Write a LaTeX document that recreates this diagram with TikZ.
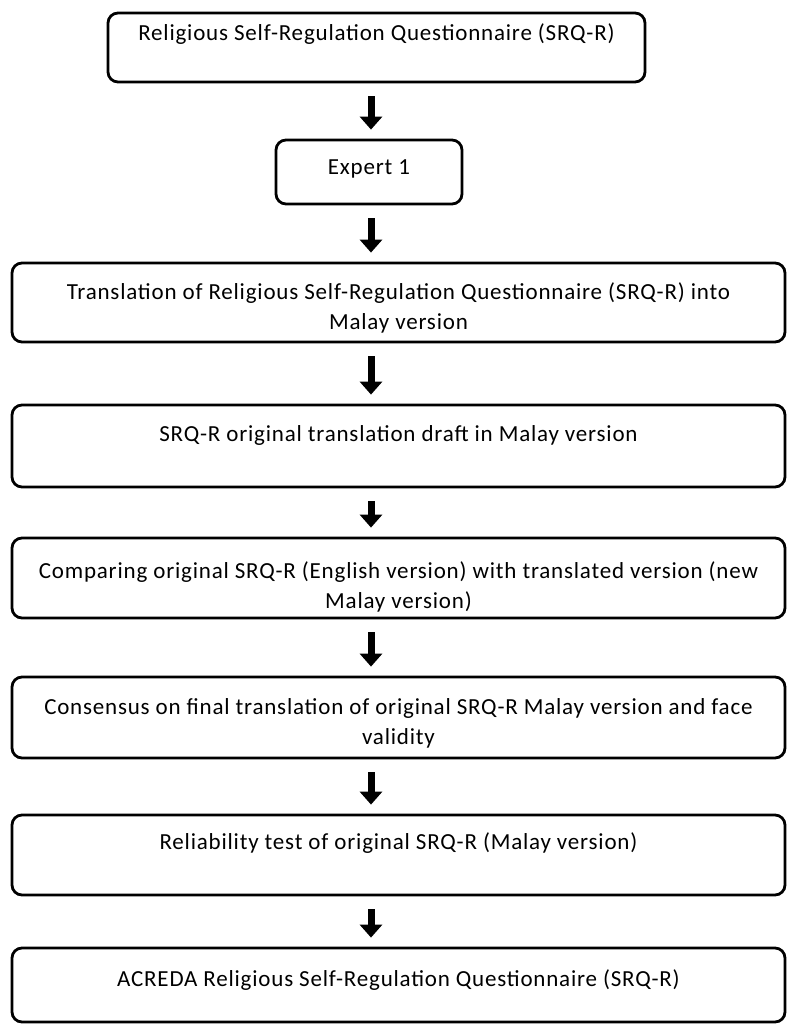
\documentclass[tikz,border=0pt]{standalone}
\usepackage{fontspec}
\setmainfont{Carlito}[LetterSpace=3.5]
\usetikzlibrary{arrows.meta}

\tikzset{
    stepbox/.style={draw, line width=2.8pt, rounded corners=10pt, align=center, inner sep=0pt, text height=16pt},
    widebox/.style={stepbox, minimum width=773pt},
    flowarrow/.style={line width=7pt, -{Triangle[width=22pt,length=13pt]}, shorten <=13pt, shorten >=9pt}
}

\begin{document}
\begin{tikzpicture}[x=1pt, y=-1pt, font=\fontsize{23}{30}\selectfont]
    \useasboundingbox (0,0) rectangle (787,1025);

    % Boxes
    \node[stepbox, minimum width=537pt, minimum height=69pt, text depth=30pt] (srq) at (376.5,47.5) {Religious Self-Regulation Questionnaire (SRQ-R)};
    \node[stepbox, minimum width=186pt, minimum height=64pt, text depth=12pt] (expert) at (369,172) {Expert 1};
    \node[widebox, minimum height=79pt, text height=53pt, text depth=0pt] (transl) at (398.5,302.5) {Translation of Religious Self-Regulation Questionnaire (SRQ-R) into\\ Malay version};
    \node[widebox, minimum height=82pt, text depth=26pt] (draft) at (398.5,446) {SRQ-R original translation draft in Malay version};
    \node[widebox, minimum height=80pt, text height=60pt, text depth=0pt] (compare) at (398.5,578) {Comparing original SRQ-R (English version) with translated version (new\\ Malay version)};
    \node[widebox, minimum height=81pt, text height=53pt, text depth=0pt] (consensus) at (398.5,717.5) {Consensus on final translation of original SRQ-R Malay version and face\\ validity};
    \node[widebox, minimum height=80pt, text depth=28pt] (reliab) at (398.5,855) {Reliability test of original SRQ-R (Malay version)};
    \node[widebox, minimum height=74pt, text depth=14pt] (acreda) at (398.5,985) {ACREDA Religious Self-Regulation Questionnaire (SRQ-R)};

    % Arrows
    \coordinate (ax) at (371,0);
    \draw[flowarrow] (srq.south -| ax) -- (expert.north -| ax);
    \draw[flowarrow] (expert.south -| ax) -- (transl.north -| ax);
    \draw[flowarrow] (transl.south -| ax) -- (draft.north -| ax);
    \draw[flowarrow] (draft.south -| ax) -- (compare.north -| ax);
    \draw[flowarrow] (compare.south -| ax) -- (consensus.north -| ax);
    \draw[flowarrow] (consensus.south -| ax) -- (reliab.north -| ax);
    \draw[flowarrow] (reliab.south -| ax) -- (acreda.north -| ax);
\end{tikzpicture}
\end{document}
